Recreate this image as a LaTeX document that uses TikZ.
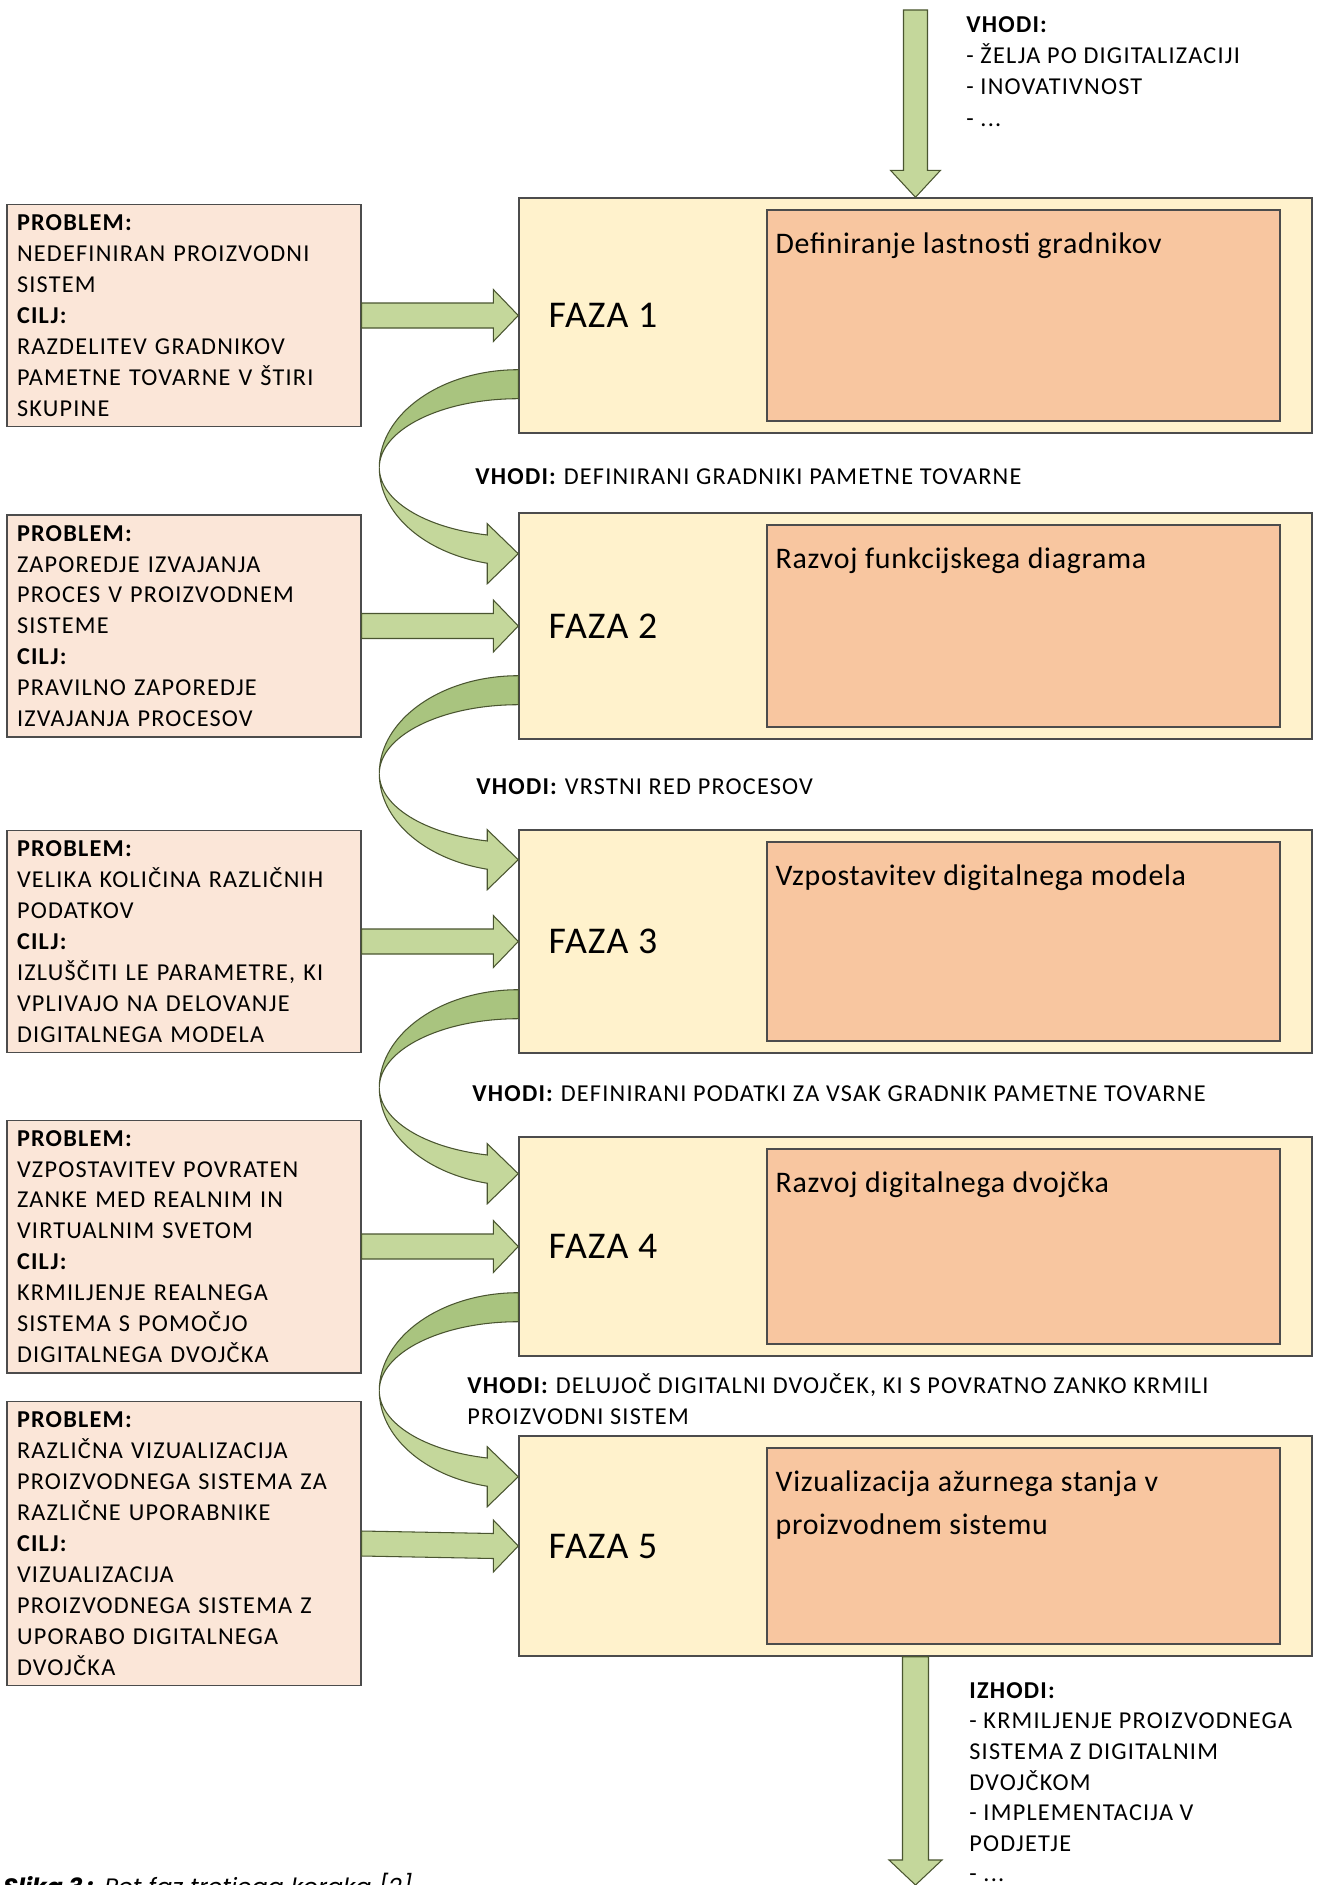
\documentclass[tikz,border=0pt]{standalone}
\usepackage{fontspec}
\setmainfont{Carlito}
\newfontfamily\capfont{Poppins}
\usetikzlibrary{calc,positioning}

\definecolor{fazafill}{HTML}{FFF2CC}
\definecolor{taskfill}{HTML}{F8C6A0}
\definecolor{probfill}{HTML}{FBE6D8}
\definecolor{arrlight}{HTML}{C4D79B}
\definecolor{arrdark}{HTML}{A9C47F}
\definecolor{arrline}{HTML}{4A5530}

\begin{document}
\begin{tikzpicture}[
  fazabox/.style={draw=black!70,line width=0.8pt,fill=fazafill,minimum width=15.86cm,inner sep=0pt},
  taskbox/.style={draw=black!70,line width=0.8pt,fill=taskfill,minimum width=10.26cm,inner sep=0pt},
  probbox/.style={draw=black!70,line width=0.8pt,fill=probfill,text width=6.68cm,align=left,inner sep=0.2cm,font=\addfontfeature{LetterSpace=5}\fontsize{13.8}{17.6}\selectfont},
  fazatxt/.style={anchor=west,inner sep=0pt,font=\addfontfeature{LetterSpace=3}\fontsize{21.5}{26}\selectfont},
  tasktxt/.style={anchor=north west,inner sep=0pt,align=left,font=\addfontfeature{LetterSpace=2.5}\fontsize{17}{24.5}\selectfont},
  vhtxt/.style={inner sep=0pt,align=left,font=\addfontfeature{LetterSpace=5}\fontsize{13.8}{17.8}\selectfont},
  blockarr/.style={draw=arrline,line width=0.6pt,fill=arrlight,line join=miter},
  curvdark/.style={draw=arrline,line width=0.6pt,fill=arrdark}
]
\useasboundingbox (0,0) rectangle (26.32,-37.70);

% phases
\node[fazabox,minimum height=4.70cm] (f1_box) at (18.31,-6.31) {};
\node[fazabox,minimum height=4.52cm] (f2_box) at (18.31,-12.52) {};
\node[fazabox,minimum height=4.46cm] (f3_box) at (18.31,-18.83) {};
\node[fazabox,minimum height=4.38cm] (f4_box) at (18.31,-24.93) {};
\node[fazabox,minimum height=4.40cm] (f5_box) at (18.31,-30.92) {};
\node[fazatxt] (f1_lbl) at ($(f1_box.west)+(0.6,0)$) {FAZA 1};
\node[fazatxt] (f2_lbl) at ($(f2_box.west)+(0.6,0)$) {FAZA 2};
\node[fazatxt] (f3_lbl) at ($(f3_box.west)+(0.6,0)$) {FAZA 3};
\node[fazatxt] (f4_lbl) at ($(f4_box.west)+(0.6,0)$) {FAZA 4};
\node[fazatxt] (f5_lbl) at ($(f5_box.west)+(0.6,0)$) {FAZA 5};

% tasks inside phases
\node[taskbox,minimum height=4.22cm] (f1_task) at (20.47,-6.31) {};
\node[taskbox,minimum height=4.04cm] (f2_task) at (20.47,-12.52) {};
\node[taskbox,minimum height=3.98cm] (f3_task) at (20.47,-18.83) {};
\node[taskbox,minimum height=3.90cm] (f4_task) at (20.47,-24.93) {};
\node[taskbox,minimum height=3.92cm] (f5_task) at (20.47,-30.92) {};
\node[tasktxt] (f1_txt) at ($(f1_task.north west)+(0.18,-0.46)$) {Definiranje lastnosti gradnikov};
\node[tasktxt] (f2_txt) at ($(f2_task.north west)+(0.18,-0.46)$) {Razvoj funkcijskega diagrama};
\node[tasktxt] (f3_txt) at ($(f3_task.north west)+(0.18,-0.46)$) {Vzpostavitev digitalnega modela};
\node[tasktxt] (f4_txt) at ($(f4_task.north west)+(0.18,-0.46)$) {Razvoj digitalnega dvojčka};
\node[tasktxt] (f5_txt) at ($(f5_task.north west)+(0.18,-0.46)$) {Vizualizacija ažurnega stanja v\\proizvodnem sistemu};

% problems
\node[probbox] (f1_prob) at (3.68,-6.31) {\textbf{PROBLEM:}\\NEDEFINIRAN PROIZVODNI\\SISTEM\\\textbf{CILJ:}\\RAZDELITEV GRADNIKOV\\PAMETNE TOVARNE V ŠTIRI\\SKUPINE};
\node[probbox] (f2_prob) at (3.68,-12.52) {\textbf{PROBLEM:}\\ZAPOREDJE IZVAJANJA\\PROCES V PROIZVODNEM\\SISTEME\\\textbf{CILJ:}\\PRAVILNO ZAPOREDJE\\IZVAJANJA PROCESOV};
\node[probbox] (f3_prob) at (3.68,-18.83) {\textbf{PROBLEM:}\\VELIKA KOLIČINA RAZLIČNIH\\PODATKOV\\\textbf{CILJ:}\\IZLUŠČITI LE PARAMETRE, KI\\VPLIVAJO NA DELOVANJE\\DIGITALNEGA MODELA};
\node[probbox] (f4_prob) at (3.68,-24.93) {\textbf{PROBLEM:}\\VZPOSTAVITEV POVRATEN\\ZANKE MED REALNIM IN\\VIRTUALNIM SVETOM\\\textbf{CILJ:}\\KRMILJENJE REALNEGA\\SISTEMA S POMOČJO\\DIGITALNEGA DVOJČKA};
\node[probbox] (f5_prob) at (3.68,-30.87) {\textbf{PROBLEM:}\\RAZLIČNA VIZUALIZACIJA\\PROIZVODNEGA SISTEMA ZA\\RAZLIČNE UPORABNIKE\\\textbf{CILJ:}\\VIZUALIZACIJA\\PROIZVODNEGA SISTEMA Z\\UPORABO DIGITALNEGA\\DVOJČKA};

% problem -> phase
\draw[blockarr] (f1_box.west) -- ++(-0.5,0.52) -- ++(0,-0.27) -- ($(f1_prob.east)+(0,0.25)$) -- ++(0,-0.5) -- ($(f1_box.west)+(-0.5,-0.25)$) -- ++(0,-0.27) -- cycle;
\draw[blockarr] (f2_box.west) -- ++(-0.5,0.52) -- ++(0,-0.27) -- ($(f2_prob.east)+(0,0.25)$) -- ++(0,-0.5) -- ($(f2_box.west)+(-0.5,-0.25)$) -- ++(0,-0.27) -- cycle;
\draw[blockarr] (f3_box.west) -- ++(-0.5,0.52) -- ++(0,-0.27) -- ($(f3_prob.east)+(0,0.25)$) -- ++(0,-0.5) -- ($(f3_box.west)+(-0.5,-0.25)$) -- ++(0,-0.27) -- cycle;
\draw[blockarr] (f4_box.west) -- ++(-0.5,0.52) -- ++(0,-0.27) -- ($(f4_prob.east)+(0,0.25)$) -- ++(0,-0.5) -- ($(f4_box.west)+(-0.5,-0.25)$) -- ++(0,-0.27) -- cycle;
\draw[blockarr] (f5_box.west) -- ++(-0.5,0.52) -- ++(0,-0.27) -- ($(f5_prob.east)+(0,0.25)$) -- ++(0,-0.5) -- ($(f5_box.west)+(-0.5,-0.25)$) -- ++(0,-0.27) -- cycle;

% phase -> next phase (curved)
\draw[curvdark] ($(f1_box.south west)+(0,1.28)$) arc[start angle=90,end angle=180,x radius=2.78,y radius=1.96] arc[start angle=180,end angle=90,x radius=2.78,y radius=1.38] -- cycle;
\draw[blockarr] ($(f1_box.south west)+(-2.78,-0.68)$) arc[start angle=180,end angle=257.1,x radius=2.78,y radius=1.96] -- ++(0,-0.41) -- ++(0.62,0.6) -- ++(-0.62,0.6) -- ++(0,-0.225) arc[start angle=257.1,end angle=180,x radius=2.78,y radius=1.38] -- cycle;
\draw[curvdark] ($(f2_box.south west)+(0,1.28)$) arc[start angle=90,end angle=180,x radius=2.78,y radius=1.96] arc[start angle=180,end angle=90,x radius=2.78,y radius=1.38] -- cycle;
\draw[blockarr] ($(f2_box.south west)+(-2.78,-0.68)$) arc[start angle=180,end angle=257.1,x radius=2.78,y radius=1.96] -- ++(0,-0.41) -- ++(0.62,0.6) -- ++(-0.62,0.6) -- ++(0,-0.225) arc[start angle=257.1,end angle=180,x radius=2.78,y radius=1.38] -- cycle;
\draw[curvdark] ($(f3_box.south west)+(0,1.28)$) arc[start angle=90,end angle=180,x radius=2.78,y radius=1.96] arc[start angle=180,end angle=90,x radius=2.78,y radius=1.38] -- cycle;
\draw[blockarr] ($(f3_box.south west)+(-2.78,-0.68)$) arc[start angle=180,end angle=257.1,x radius=2.78,y radius=1.96] -- ++(0,-0.41) -- ++(0.62,0.6) -- ++(-0.62,0.6) -- ++(0,-0.225) arc[start angle=257.1,end angle=180,x radius=2.78,y radius=1.38] -- cycle;
\draw[curvdark] ($(f4_box.south west)+(0,1.28)$) arc[start angle=90,end angle=180,x radius=2.78,y radius=1.96] arc[start angle=180,end angle=90,x radius=2.78,y radius=1.38] -- cycle;
\draw[blockarr] ($(f4_box.south west)+(-2.78,-0.68)$) arc[start angle=180,end angle=257.1,x radius=2.78,y radius=1.96] -- ++(0,-0.41) -- ++(0.62,0.6) -- ++(-0.62,0.6) -- ++(0,-0.225) arc[start angle=257.1,end angle=180,x radius=2.78,y radius=1.38] -- cycle;

% inputs between phases
\node[vhtxt,anchor=west] (f12_in) at (9.50,-9.54) {\textbf{VHODI:} DEFINIRANI GRADNIKI PAMETNE TOVARNE};
\node[vhtxt,anchor=west] (f23_in) at (9.52,-15.74) {\textbf{VHODI:} VRSTNI RED PROCESOV};
\node[vhtxt,anchor=west] (f34_in) at (9.44,-21.88) {\textbf{VHODI:} DEFINIRANI PODATKI ZA VSAK GRADNIK PAMETNE TOVARNE};
\node[vhtxt,anchor=west] (f45_in) at (9.34,-27.98) {\textbf{VHODI:} DELUJOČ DIGITALNI DVOJČEK, KI S POVRATNO ZANKO KRMILI\\PROIZVODNI SISTEM};

% overall input and output
\coordinate (top_in) at (18.31,-0.2);
\coordinate (bot_out) at (18.31,-37.70);
\draw[blockarr] (f1_box.north) -- ++(-0.5,0.54) -- ++(0.26,0) -- ($(top_in)+(-0.24,0)$) -- ++(0.48,0) -- ($(f1_box.north)+(0.24,0.54)$) -- ++(0.26,0) -- cycle;
\draw[blockarr] ($(f5_box.south)+(-0.26,0)$) -- ($(bot_out)+(-0.26,0.5)$) -- ++(-0.27,0) -- (bot_out) -- ++(0.53,0.5) -- ++(-0.27,0) -- ($(f5_box.south)+(0.26,0)$) -- cycle;
\node[vhtxt,anchor=north west] (top_lbl) at (19.32,-0.32) {\textbf{VHODI:}\\- ŽELJA PO DIGITALIZACIJI\\- INOVATIVNOST\\- ...};
\node[vhtxt,anchor=north west,font=\addfontfeature{LetterSpace=5}\fontsize{13.8}{17.4}\selectfont] (bot_lbl) at (19.38,-33.64) {\textbf{IZHODI:}\\- KRMILJENJE PROIZVODNEGA\\SISTEMA Z DIGITALNIM\\DVOJČKOM\\- IMPLEMENTACIJA V\\PODJETJE\\- ...};

% caption
\node[anchor=north west,inner sep=0pt,font=\capfont\itshape\fontsize{13.5}{16}\selectfont] (cap) at (0.06,-37.46) {\textbf{Slika 3 :} Pet faz tretjega koraka [2]};
\end{tikzpicture}
\end{document}
